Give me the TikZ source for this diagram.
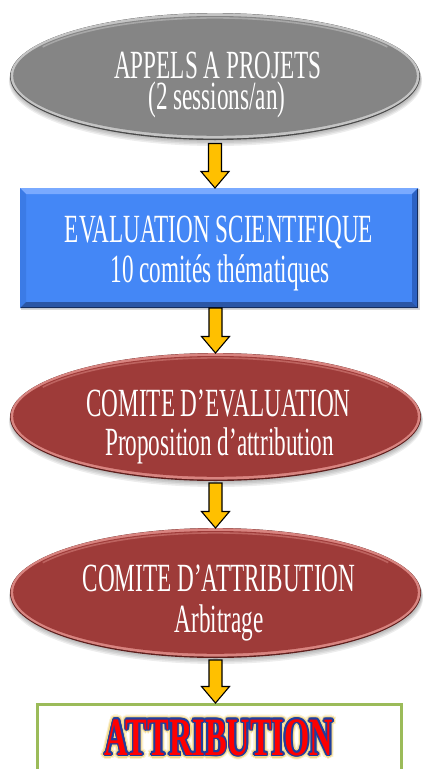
\documentclass[tikz,border=0pt]{standalone}
\usepackage{fontspec}
\usetikzlibrary{shapes.geometric,calc}
\newfontfamily\nf[FakeStretch=0.58]{Liberation Serif}
\newfontfamily\af[FakeStretch=0.6]{Liberation Serif}
\definecolor{arrowyellow}{HTML}{FFC000}
\definecolor{grayface}{HTML}{858585}
\definecolor{grayrim}{HTML}{4A4A4A}
\definecolor{graylight}{HTML}{C4C4C4}
\definecolor{redface}{HTML}{9E3B39}
\definecolor{redrim}{HTML}{5E1E1C}
\definecolor{redlight}{HTML}{D88480}
\definecolor{blueface}{HTML}{4487F6}
\definecolor{bluetop}{HTML}{7AAAFF}
\definecolor{blueleft}{HTML}{3B7BE6}
\definecolor{blueright}{HTML}{2C62C4}
\definecolor{bluebottom}{HTML}{2A56A6}
\definecolor{blueshadow}{HTML}{152D5C}
\definecolor{greenframe}{HTML}{9BBB59}
\definecolor{glowA}{HTML}{FBF0CF}
\definecolor{glowB}{HTML}{F2D98C}
\definecolor{attrblue}{HTML}{1F3E9E}
\definecolor{attrred}{HTML}{FF0000}

\tikzset{
  lbl/.style={anchor=base, inner sep=0pt, text=white, font=\nf\fontsize{40}{42}\selectfont},
  flowarrow/.style={fill=arrowyellow, draw=black, line width=1.1pt, line join=miter},
  ovalnode/.style={ellipse, inner sep=0pt, outer sep=0pt},
}

% ellipse with bevel: name, cx, cy, rx, ry, face, rim, light
\newcommand\bevelE[8]{%
  \foreach \k in {1,2,3,4}{%
    \fill[black, opacity=0.07] (#2+0.5,#3-1.2*\k) ellipse [x radius=#4+0.4*\k, y radius=#5+0.3*\k];
  }
  \node[ovalnode, fill=#7, minimum width=2*#4pt, minimum height=2*#5pt] (#1) at (#2,#3) {};
  \fill[#8] (#2,#3+0.6) ellipse [x radius=#4-0.6, y radius=#5-0.8];
  \fill[#6] (#2,#3+0.6) ellipse [x radius=#4-3.2, y radius=#5-3.6];
  \draw[#8, line width=1.6pt, opacity=0.55] (#2,#3+0.6) ++(30:#4-6 and #5-5.5)
     arc[start angle=30, end angle=150, x radius=#4-6, y radius=#5-5.5];
}

% block arrow: start point, end point, node giving x
\newcommand\flowarrow[3]{%
  \draw[flowarrow] let \p1=(#1), \p2=(#2), \p3=(#3) in
    (\x3-6.5pt,\y1) -- (\x3+6.5pt,\y1) -- (\x3+6.5pt,\y2+16.5pt) -- (\x3+14pt,\y2+16.5pt)
    -- (\x3,\y2) -- (\x3-14pt,\y2+16.5pt) -- (\x3-6.5pt,\y2+16.5pt) -- cycle;
}

\newcommand\ringcopies[3]{%
  \foreach \a in {0,30,...,330}{%
    \pgfmathsetlengthmacro\dx{(#1)*cos(\a)}%
    \pgfmathsetlengthmacro\dy{(#1)*sin(\a)}%
    \makebox[0pt][l]{\hspace*{\dx}\raisebox{\dy}{\textcolor{#2}{#3}}}%
  }%
}
\newcommand\attrword[1]{%
  \ringcopies{4.2pt}{glowA}{#1}%
  \ringcopies{3pt}{glowB}{#1}%
  \ringcopies{1.7pt}{attrblue}{#1}%
  \textcolor{attrred}{#1}%
}

\begin{document}
\begin{tikzpicture}[x=1pt,y=1pt]
\useasboundingbox (0,0) rectangle (423,-769);
\clip (0,0) rectangle (423,-769);
\fill[white] (0,0) rectangle (423,-769);

% ---- shape 1: grey ellipse
\bevelE{e1}{215}{-76.5}{205}{63.5}{grayface}{grayrim}{graylight}

% ---- shape 2: blue rectangle
\fill[black, opacity=0.15] (21,-189) rectangle (420,-309.5);
\node[rectangle, inner sep=0pt, outer sep=0pt, fill=blueface,
      minimum width=398pt, minimum height=120pt] (r1) at (219,-248) {};
\fill[bluetop] (r1.north west) -- (r1.north east) -- ($(r1.north east)+(-6,-6)$) -- ($(r1.north west)+(6,-6)$) -- cycle;
\fill[blueleft] (r1.north west) -- ($(r1.north west)+(6,-6)$) -- ($(r1.south west)+(6,6)$) -- (r1.south west) -- cycle;
\fill[blueright] (r1.north east) -- ($(r1.north east)+(-6,-6)$) -- ($(r1.south east)+(-6,6)$) -- (r1.south east) -- cycle;
\fill[bluebottom] (r1.south west) -- ($(r1.south west)+(6,6)$) -- ($(r1.south east)+(-6,6)$) -- (r1.south east) -- cycle;
\draw[blueshadow, line width=1.5pt] ($(r1.north east)+(-0.75,-1)$) -- ($(r1.south east)+(-0.75,0.75)$) -- ($(r1.south west)+(1,0.75)$);

% ---- shape 3 and 4: red ellipses
\bevelE{e2}{215.5}{-417}{205.5}{64}{redface}{redrim}{redlight}
\bevelE{e3}{215.5}{-593}{205.5}{65}{redface}{redrim}{redlight}

% ---- shape 5: green frame
\node[rectangle, draw=greenframe, line width=3pt, fill=white, inner sep=0pt,
      minimum width=364pt, minimum height=100pt, anchor=north] (r2) at (219.5,-703) {};

% ---- arrows
\flowarrow{$(e1.south)+(0,-3.5)$}{r1.north}{e1.south}
\flowarrow{r1.south}{e2.north}{e2.north}
\flowarrow{$(e2.south)+(0,-2)$}{e3.north}{e2.south}
\flowarrow{$(e3.south)+(0,-2)$}{r2.north}{e3.south}

% ---- texts
\node[lbl] (t1a) at (218,-78) {APPELS A PROJETS};
\node[lbl] (t1b) at (217,-109) {(2 sessions/an)};
\node[lbl] (t2a) at (219,-242) {EVALUATION SCIENTIFIQUE};
\node[lbl] (t2b) at (220,-282) {10 comités thématiques};
\node[lbl] (t3a) at (218.5,-416) {COMITE D’EVALUATION};
\node[lbl] (t3b) at (219.5,-455) {Proposition d’attribution};
\node[lbl] (t4a) at (219,-591) {COMITE D’ATTRIBUTION};
\node[lbl] (t4b) at (219,-632) {Arbitrage};
\node[anchor=base, inner sep=0pt, font=\af\bfseries\fontsize{54}{56}\selectfont] (t5) at (219,-755) {\attrword{ATTRIBUTION}};
\end{tikzpicture}
\end{document}
